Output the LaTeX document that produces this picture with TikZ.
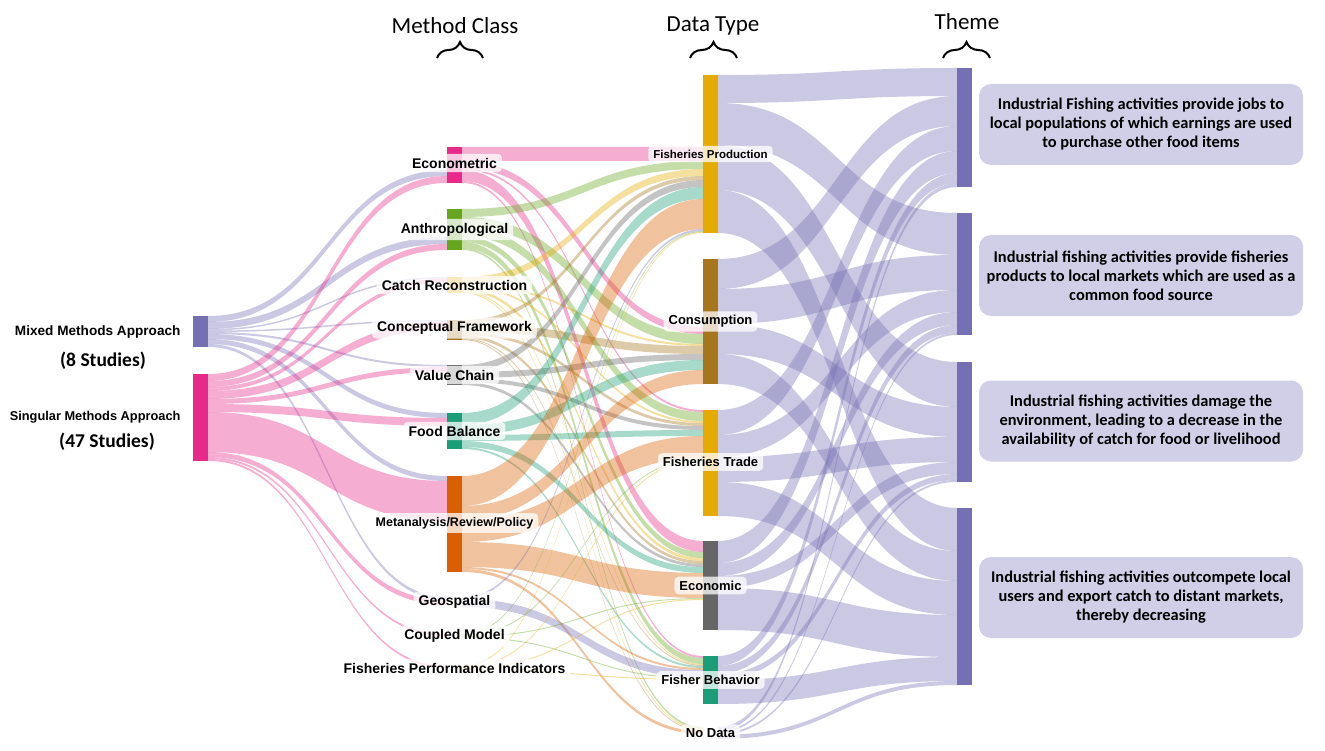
\documentclass[tikz,border=0pt]{standalone}
\usepackage{fontspec}
\setmainfont{Carlito}
\newfontfamily\arialfont{Liberation Sans}
\usetikzlibrary{calc}
\usetikzlibrary{positioning}
\usetikzlibrary{decorations.pathreplacing}
\definecolor{mixc}{HTML}{7570B3}
\definecolor{sngc}{HTML}{E7298A}
\definecolor{antc}{HTML}{66A61E}
\definecolor{yelc}{HTML}{E6AB02}
\definecolor{brnc}{HTML}{A6761D}
\definecolor{gryc}{HTML}{666666}
\definecolor{tealc}{HTML}{1B9E77}
\definecolor{orgc}{HTML}{D95F02}
\definecolor{boxc}{HTML}{D1CFE7}
\tikzset{
  bar/.style= {rectangle, inner sep=0, outer sep=0, minimum width=15pt},
  link/.style= {fill opacity=0.38},
  lbl/.style= {fill=white, fill opacity=0.75, text opacity=1, rounded corners=4pt,
    inner xsep=5pt, inner ysep=4pt, font=\arialfont\bfseries\fontsize{14}{16}\selectfont},
  dlbl/.style= {lbl, font=\arialfont\bfseries\fontsize{13}{15}\selectfont},
  alabel/.style= {font=\arialfont\bfseries\fontsize{13.6}{16}\selectfont},
  count/.style= {font=\bfseries\fontsize{19.5}{22}\selectfont},
  head/.style= {font=\fontsize{23}{26}\selectfont},
  hbrace/.style= {decorate, decoration={brace, amplitude=16pt}, line width=2pt},
  theme/.style= {fill=boxc, rounded corners=12pt, minimum width=324pt, minimum height=81pt,
    align=center, font=\bfseries\fontsize{16.4}{19}\selectfont},
}
\newcommand\flow[6]{%
  \fill[#1, link] ($(#2.north east)+(0,#3)$)
    .. controls +(120,0) and +(-120,0) .. ($(#4.north west)+(0,#5)$)
    -- ($(#4.north west)+(0,{#5+#6})$)
    .. controls +(-120,0) and +(120,0) .. ($(#2.north east)+(0,{#3+#6})$) -- cycle;}

\begin{document}
\begin{tikzpicture}[x=1pt, y=-1pt]
  \useasboundingbox[fill=white] (0,0) rectangle (1325,751);

  \node [bar, fill=mixc, minimum height=31pt] (mixed) at (200.5,331.5) {};
  \node [bar, fill=sngc, minimum height=87pt] (single) at (200.5,417.5) {};

  \node [bar, fill=sngc, minimum height=36pt] (meco) at (454.5,165) {};
  \node [bar, fill=antc, minimum height=41pt] (manth) at (454.5,229.5) {};
  \node [bar, fill=yelc, minimum height=16pt] (mcatch) at (454.5,285) {};
  \node [bar, fill=brnc, minimum height=20pt] (mconc) at (454.5,330) {};
  \node [bar, fill=gryc, minimum height=20pt] (mval) at (454.5,375) {};
  \node [bar, fill=tealc, minimum height=36pt] (mfood) at (454.5,431) {};
  \node [bar, fill=orgc, minimum height=96pt] (mmeta) at (454.5,524) {};
  \node [bar, minimum height=10pt] (mgeo) at (454.5,602) {};
  \node [bar, minimum height=4pt] (mcoup) at (454.5,636) {};
  \node [bar, minimum height=4pt] (mfpi) at (454.5,668) {};

  \node [bar, fill=yelc, minimum height=158pt] (dprod) at (710.5,154) {};
  \node [bar, fill=brnc, minimum height=125pt] (dcons) at (710.5,321.5) {};
  \node [bar, fill=yelc, minimum height=106pt] (dtrade) at (710.5,463) {};
  \node [bar, fill=gryc, minimum height=89pt] (decon) at (710.5,585.5) {};
  \node [bar, fill=tealc, minimum height=48pt] (dbeh) at (710.5,680) {};
  \node [bar, minimum height=12pt] (dnone) at (710.5,733) {};

  \node [bar, fill=mixc, minimum height=119pt] (t1) at (964.5,127.5) {};
  \node [bar, fill=mixc, minimum height=122pt] (t2) at (964.5,274) {};
  \node [bar, fill=mixc, minimum height=120pt] (t3) at (964.5,422) {};
  \node [bar, fill=mixc, minimum height=177pt] (t4) at (964.5,596.5) {};

  \flow{mixc}{mixed}{0}{meco}{23}{6}
  \flow{mixc}{mixed}{6}{manth}{28}{7}
  \flow{mixc}{mixed}{13}{mcatch}{0}{1.5}
  \flow{mixc}{mixed}{14.5}{mconc}{0}{1.5}
  \flow{mixc}{mixed}{16}{mval}{0}{2}
  \flow{mixc}{mixed}{18}{mfood}{0}{5}
  \flow{mixc}{mixed}{23}{mmeta}{0}{5}
  \flow{mixc}{mixed}{28}{mgeo}{0}{3}
  \flow{sngc}{single}{0}{meco}{29}{7}
  \flow{sngc}{single}{7}{manth}{35}{6}
  \flow{sngc}{single}{13}{mcatch}{1.5}{4}
  \flow{sngc}{single}{17}{mconc}{1.5}{8}
  \flow{sngc}{single}{25}{mval}{2}{5}
  \flow{sngc}{single}{30}{mfood}{5}{8}
  \flow{sngc}{single}{38}{mmeta}{5}{40}
  \flow{sngc}{single}{78}{mgeo}{3}{5}
  \flow{sngc}{single}{83}{mcoup}{0}{2}
  \flow{sngc}{single}{85}{mfpi}{0}{2}

  \flow{sngc}{meco}{0}{dprod}{72}{14}
  \flow{sngc}{meco}{14}{dcons}{68}{7}
  \flow{sngc}{meco}{21}{dtrade}{0}{2}
  \flow{sngc}{meco}{23}{decon}{0}{11}
  \flow{sngc}{meco}{34}{dbeh}{0}{2}
  \flow{antc}{manth}{0}{dprod}{86}{8}
  \flow{antc}{manth}{8}{dcons}{75}{10}
  \flow{antc}{manth}{18}{dtrade}{2}{9}
  \flow{antc}{manth}{27}{decon}{11}{6}
  \flow{antc}{manth}{33}{dbeh}{2}{6}
  \flow{antc}{manth}{39}{dnone}{0}{2}
  \flow{yelc}{mcatch}{0}{dprod}{94}{7}
  \flow{yelc}{mcatch}{7}{dcons}{85}{2}
  \flow{yelc}{mcatch}{9}{dtrade}{11}{2}
  \flow{yelc}{mcatch}{11}{decon}{17}{3}
  \flow{yelc}{mcatch}{14}{dbeh}{8}{1}
  \flow{yelc}{mcatch}{15}{dnone}{2}{1}
  \flow{brnc}{mconc}{0}{dprod}{101}{4}
  \flow{brnc}{mconc}{4}{dcons}{87}{8}
  \flow{brnc}{mconc}{12}{dtrade}{13}{3}
  \flow{brnc}{mconc}{15}{decon}{20}{3}
  \flow{brnc}{mconc}{18}{dbeh}{9}{1}
  \flow{brnc}{mconc}{19}{dnone}{3}{1}
  \flow{gryc}{mval}{0}{dprod}{105}{7}
  \flow{gryc}{mval}{7}{dcons}{95}{6}
  \flow{gryc}{mval}{13}{dtrade}{16}{4}
  \flow{gryc}{mval}{17}{decon}{23}{3}
  \flow{tealc}{mfood}{0}{dprod}{112}{12}
  \flow{tealc}{mfood}{12}{dcons}{101}{10}
  \flow{tealc}{mfood}{22}{dtrade}{20}{6}
  \flow{tealc}{mfood}{28}{decon}{26}{6}
  \flow{tealc}{mfood}{34}{dbeh}{10}{2}
  \flow{orgc}{mmeta}{0}{dprod}{124}{30}
  \flow{orgc}{mmeta}{30}{dcons}{111}{14}
  \flow{orgc}{mmeta}{44}{dtrade}{26}{22}
  \flow{orgc}{mmeta}{66}{decon}{32}{25}
  \flow{orgc}{mmeta}{91}{dbeh}{12}{2}
  \flow{orgc}{mmeta}{93}{dnone}{4}{3}
  \flow{mixc}{mgeo}{0}{dprod}{154}{2}
  \flow{mixc}{mgeo}{2}{dbeh}{14}{8}
  \flow{antc}{mcoup}{0}{dprod}{156}{1}
  \flow{antc}{mcoup}{1}{dtrade}{48}{1}
  \flow{antc}{mcoup}{2}{decon}{57}{1}
  \flow{antc}{mcoup}{3}{dbeh}{22}{1}
  \flow{yelc}{mfpi}{0}{dprod}{157}{1}
  \flow{yelc}{mfpi}{1}{dtrade}{49}{1}
  \flow{yelc}{mfpi}{2}{decon}{58}{1}
  \flow{yelc}{mfpi}{3}{dbeh}{23}{1}

  \flow{mixc}{dprod}{0}{t1}{0}{28}
  \flow{mixc}{dprod}{28}{t2}{0}{42}
  \flow{mixc}{dprod}{70}{t3}{0}{45}
  \flow{mixc}{dprod}{115}{t4}{0}{43}
  \flow{mixc}{dcons}{0}{t1}{28}{30}
  \flow{mixc}{dcons}{30}{t2}{42}{35}
  \flow{mixc}{dcons}{65}{t3}{45}{30}
  \flow{mixc}{dcons}{95}{t4}{43}{30}
  \flow{mixc}{dtrade}{0}{t1}{58}{25}
  \flow{mixc}{dtrade}{25}{t2}{77}{22}
  \flow{mixc}{dtrade}{47}{t3}{75}{25}
  \flow{mixc}{dtrade}{72}{t4}{73}{34}
  \flow{mixc}{decon}{0}{t1}{83}{22}
  \flow{mixc}{decon}{22}{t2}{99}{13}
  \flow{mixc}{decon}{35}{t3}{100}{12}
  \flow{mixc}{decon}{47}{t4}{107}{42}
  \flow{mixc}{dbeh}{0}{t1}{105}{10}
  \flow{mixc}{dbeh}{10}{t2}{112}{8}
  \flow{mixc}{dbeh}{18}{t3}{112}{6}
  \flow{mixc}{dbeh}{24}{t4}{149}{24}
  \flow{mixc}{dnone}{0}{t1}{115}{4}
  \flow{mixc}{dnone}{4}{t2}{120}{2}
  \flow{mixc}{dnone}{6}{t3}{118}{2}
  \flow{mixc}{dnone}{8}{t4}{173}{4}

  \node [alabel, left=9pt of mixed] (lmixed) {Mixed Methods Approach};
  \node [count] (nmixed) at (103,361) {(8 Studies)};
  \node [alabel, left=9pt of single, font=\arialfont\bfseries\fontsize{12.8}{15}\selectfont] (lsingle) {Singular Methods Approach};
  \node [count] (nsingle) at (107,442) {(47 Studies)};

  \node [lbl] (leco) at ([yshift=2pt]meco) {Econometric};
  \node [lbl] (lanth) at (manth) {Anthropological};
  \node [lbl] (lcatch) at (mcatch) {Catch Reconstruction};
  \node [lbl] (lconc) at ([yshift=2pt]mconc) {Conceptual Framework};
  \node [lbl] (lval) at (mval) {Value Chain};
  \node [lbl] (lfood) at (mfood) {Food Balance};
  \node [lbl, font=\arialfont\bfseries\fontsize{12.5}{15}\selectfont] (lmeta) at ([yshift=1pt]mmeta) {Metanalysis/Review/Policy};
  \node [lbl] (lgeo) at (mgeo) {Geospatial};
  \node [lbl] (lcoup) at (mcoup) {Coupled Model};
  \node [lbl] (lfpi) at (mfpi) {Fisheries Performance Indicators};

  \node [dlbl, font=\arialfont\bfseries\fontsize{11.5}{14}\selectfont] (lprod) at (dprod) {Fisheries Production};
  \node [dlbl] (lcons) at (dcons) {Consumption};
  \node [dlbl] (ltrade) at ([yshift=1pt]dtrade) {Fisheries Trade};
  \node [dlbl] (lecon) at (decon) {Economic};
  \node [dlbl] (lbeh) at (dbeh) {Fisher Behavior};
  \node [dlbl] (lnone) at (dnone) {No Data};

  \node [theme] (box1) at (1141,124.5) {Industrial Fishing activities provide jobs to\\local populations of which earnings are used\\to purchase other food items};
  \node [theme] (box2) at (1141,275.5) {Industrial fishing activities provide fisheries\\products to local markets which are used as a\\common food source};
  \node [theme] (box3) at (1141,421) {Industrial fishing activities damage the\\environment, leading to a decrease in the\\availability of catch for food or livelihood};
  \node [theme] (box4) at (1141,597.5) {Industrial fishing activities outcompete local\\users and export catch to distant markets,\\thereby decreasing};

  \node [head] (hmeth) at (455,26) {Method Class};
  \node [head] (hdata) at (713,26) {Data Type};
  \node [head] (htheme) at (967,22) {Theme};
  \draw [hbrace] (437,58) -- (483,58);
  \draw [hbrace] (690,58) -- (737,58);
  \draw [hbrace] (943,58) -- (990,58);
\end{tikzpicture}
\end{document}
